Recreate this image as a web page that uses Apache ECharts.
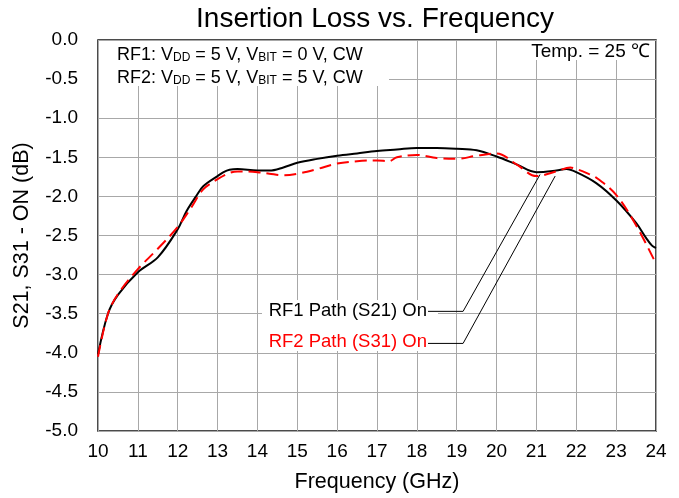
<!DOCTYPE html>
<html>
<head>
<meta charset="utf-8">
<script src="https://cdn.jsdelivr.net/npm/echarts@6/dist/echarts.min.js"></script>
<style>
  html, body { margin: 0; padding: 0; background: #fff; }
  #myChart { width: 679px; height: 498px; }
</style>
</head>
<body>
<div id="myChart"></div>
<script>
// RF1 Path (S21) On
const freqRf1 = [10, 10.25, 10.5, 11, 11.5, 12, 12.22, 12.46, 12.64, 13, 13.15, 13.3, 13.5, 14, 14.3, 14.65, 15, 15.5, 16, 16.5, 17, 17.5, 18, 18.5, 19, 19.5, 20, 20.5, 21, 21.5, 21.75, 22, 22.5, 23, 23.5, 23.75, 23.9, 24];
const lossRf1 = [-4.02, -3.5, -3.26, -2.97, -2.78, -2.42, -2.19, -2.0, -1.87, -1.74, -1.69, -1.66, -1.65, -1.67, -1.67, -1.63, -1.57, -1.52, -1.48, -1.45, -1.42, -1.4, -1.38, -1.38, -1.39, -1.41, -1.49, -1.59, -1.69, -1.67, -1.65, -1.69, -1.83, -2.05, -2.34, -2.53, -2.63, -2.66];
// RF2 Path (S31) On
const freqRf2 = [10, 10.25, 10.5, 11, 11.5, 12, 12.33, 12.64, 13, 13.3, 13.5, 14, 14.3, 14.65, 15, 15.5, 16, 16.5, 17, 17.3, 17.5, 18, 18.5, 19, 19.5, 20, 20.5, 21, 21.5, 21.85, 22, 22.25, 22.5, 23, 23.5, 24];
const lossRf2 = [-4.05, -3.5, -3.25, -2.93, -2.67, -2.39, -2.15, -1.91, -1.78, -1.7, -1.68, -1.69, -1.71, -1.73, -1.71, -1.65, -1.58, -1.55, -1.54, -1.55, -1.5, -1.47, -1.51, -1.52, -1.48, -1.45, -1.59, -1.74, -1.68, -1.63, -1.65, -1.7, -1.76, -1.98, -2.37, -2.86];

// 引线端点（数据坐标）
const leaderRf1 = [[18.28, -3.47], [19.16, -3.47], [21.09, -1.72]];
const leaderRf2 = [[18.28, -3.88], [19.16, -3.88], [21.47, -1.74]];

const font = 'Liberation Sans, Arial, sans-serif';

const option = {
  animation: false,
  textStyle: { fontFamily: font, color: '#000' },
  title: {
    text: 'Insertion Loss vs. Frequency',
    left: 370,
    top: 0,
    textAlign: 'center',
    textStyle: { fontFamily: font, fontSize: 28, fontWeight: 'normal', color: '#000' }
  },
  grid: {
    left: 98,
    right: 23,
    top: 40,
    bottom: 66,
    show: true,
    borderColor: '#111',
    borderWidth: 1.5
  },
  xAxis: {
    type: 'value',
    min: 10,
    max: 24,
    interval: 1,
    name: 'Frequency (GHz)',
    nameLocation: 'middle',
    nameGap: 40,
    nameTextStyle: { fontFamily: font, fontSize: 21.5, color: '#000' },
    axisLine: { show: false },
    axisTick: { show: false },
    axisLabel: { fontFamily: font, fontSize: 19, color: '#000', margin: 11 },
    splitLine: { lineStyle: { color: '#a8a8a8', width: 1 } }
  },
  yAxis: {
    type: 'value',
    min: -5,
    max: 0,
    interval: 0.5,
    name: 'S21, S31 - ON (dB)',
    nameLocation: 'middle',
    nameGap: 65,
    nameTextStyle: { fontFamily: font, fontSize: 21.5, color: '#000' },
    axisLine: { show: false },
    axisTick: { show: false },
    axisLabel: {
      fontFamily: font, fontSize: 19, color: '#000', margin: 20,
      formatter: v => v.toFixed(1)
    },
    splitLine: { lineStyle: { color: '#a8a8a8', width: 1 } }
  },
  series: [
    {
      name: 'RF1 Path (S21) On',
      type: 'line',
      data: freqRf1.map((f, i) => [f, lossRf1[i]]),
      smooth: 0.35,
      showSymbol: false,
      lineStyle: { color: '#000', width: 2 },
      z: 3
    },
    {
      name: 'RF2 Path (S31) On',
      type: 'line',
      data: freqRf2.map((f, i) => [f, lossRf2[i]]),
      smooth: 0.35,
      showSymbol: false,
      lineStyle: { color: '#ff0000', width: 2, type: [12, 6] },
      z: 4
    }
  ]
};

const myChart = echarts.init(document.getElementById('myChart'), null, { renderer: 'canvas' });
myChart.setOption(option);

// 注释和引线
const toPx = pts => pts.map(p => myChart.convertToPixel({ gridIndex: 0 }, p));
const condText = (n) =>
  '{n|RF' + n + ': V}{s|DD}{n| = 5 V, V}{s|BIT}{n| = ' + (n === 1 ? 0 : 5) + ' V, CW}';

myChart.setOption({
  graphic: [
    { type: 'rect', z: 10, shape: { x: 99, y: 41, width: 290, height: 45 }, style: { fill: '#fff' } },
    { type: 'rect', z: 10, shape: { x: 507, y: 41, width: 148, height: 19 }, style: { fill: '#fff' } },
    { type: 'rect', z: 10, shape: { x: 262, y: 300, width: 176, height: 51 }, style: { fill: '#fff' } },
    {
      type: 'text', z: 11, x: 117, y: 41,
      style: {
        text: condText(1) + '\n' + condText(2),
        fontFamily: font,
        rich: {
          n: { fontSize: 18, lineHeight: 23, fontFamily: font, fill: '#000', verticalAlign: 'bottom' },
          s: { fontSize: 12, lineHeight: 9, fontFamily: font, fill: '#000', verticalAlign: 'bottom' }
        }
      }
    },
    {
      type: 'text', z: 11, x: 650, y: 52,
      style: { text: 'Temp. = 25 ℃', fontFamily: font, fontSize: 19, fill: '#000', align: 'right', verticalAlign: 'middle' }
    },
    {
      type: 'text', z: 11, x: 427, y: toPx(leaderRf1)[0][1],
      style: { text: 'RF1 Path (S21) On', fontFamily: font, fontSize: 18.5, fill: '#000', align: 'right', verticalAlign: 'middle' }
    },
    {
      type: 'text', z: 11, x: 427, y: toPx(leaderRf2)[0][1] - 2,
      style: { text: 'RF2 Path (S31) On', fontFamily: font, fontSize: 18.5, fill: '#ff0000', align: 'right', verticalAlign: 'middle' }
    },
    { type: 'polyline', z: 12, shape: { points: toPx(leaderRf1) }, style: { stroke: '#000', lineWidth: 1, fill: null } },
    { type: 'polyline', z: 12, shape: { points: toPx(leaderRf2) }, style: { stroke: '#000', lineWidth: 1, fill: null } }
  ]
});
</script>
</body>
</html>
